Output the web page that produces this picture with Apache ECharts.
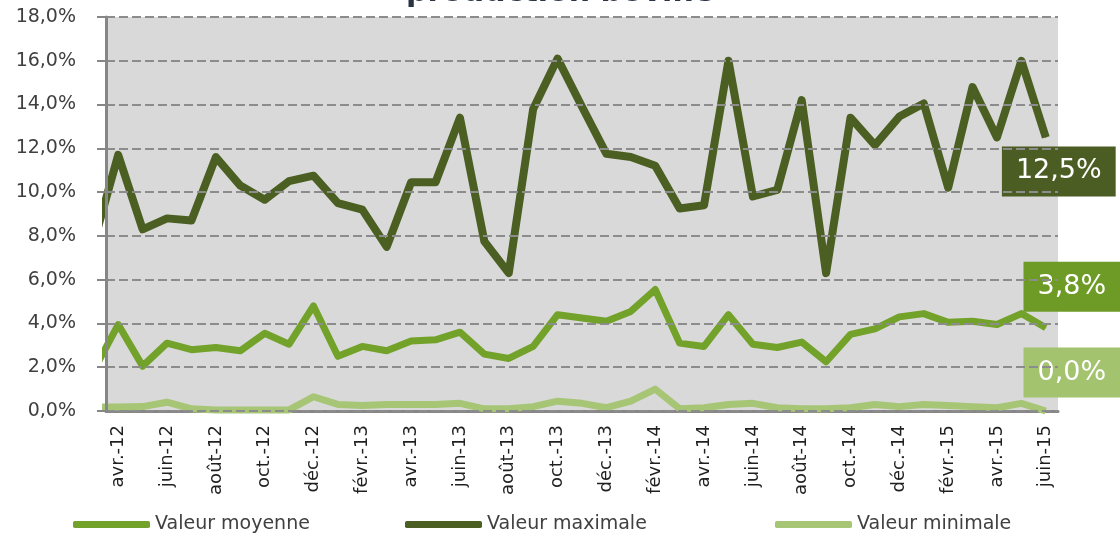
<!DOCTYPE html>
<html>
<head>
<meta charset="utf-8">
<script src="https://cdn.jsdelivr.net/npm/echarts@6/dist/echarts.min.js"></script>
<style>html,body{margin:0;padding:0;background:#fff}#c{width:1120px;height:543px}</style>
</head>
<body>
<div id="c"></div>
<script>
const titleText = 'production bovine';
const categories = ['avr.-12','mai-12','juin-12','juil.-12','août-12','sept.-12','oct.-12','nov.-12','déc.-12',
  'janv.-13','févr.-13','mars-13','avr.-13','mai-13','juin-13','juil.-13','août-13','sept.-13','oct.-13','nov.-13','déc.-13',
  'janv.-14','févr.-14','mars-14','avr.-14','mai-14','juin-14','juil.-14','août-14','sept.-14','oct.-14','nov.-14','déc.-14',
  'janv.-15','févr.-15','mars-15','avr.-15','mai-15','juin-15'];
// value of the month before the first category (mars-12), partly hidden by the axis
const previousMoyenne = 1.85;
const previousMaximale = 7.7;
const previousMinimale = 0.18;
const valeurMoyenne = [3.95,2.05,3.1,2.8,2.9,2.75,3.55,3.05,4.8,2.5,2.95,2.75,3.2,3.25,3.6,2.6,2.4,2.95,4.4,4.25,4.1,4.55,5.55,3.1,2.95,4.4,3.05,2.9,3.15,2.25,3.5,3.75,4.3,4.45,4.05,4.1,3.95,4.45,3.8];
const valeurMaximale = [11.7,8.3,8.8,8.7,11.6,10.3,9.65,10.5,10.75,9.5,9.2,7.5,10.45,10.45,13.4,7.75,6.3,13.8,16.1,13.9,11.75,11.6,11.2,9.25,9.4,16.0,9.8,10.1,14.2,6.3,13.4,12.15,13.45,14.05,10.2,14.8,12.5,16.0,12.5];
const valeurMinimale = [0.18,0.2,0.4,0.1,0.05,0.05,0.05,0.05,0.65,0.3,0.25,0.3,0.3,0.3,0.35,0.1,0.1,0.2,0.45,0.35,0.15,0.45,1.0,0.1,0.15,0.3,0.35,0.15,0.1,0.1,0.15,0.3,0.2,0.3,0.25,0.2,0.15,0.35,0.0];
const yTicks = {min: 0, max: 18, interval: 2};

const fmt = v => v.toFixed(1).replace('.', ',') + '%';

function buildData(prev, arr, labelCfg) {
  const d = [[-1, prev]];
  arr.forEach((v, i) => {
    if (i === arr.length - 1) {
      d.push({value: [i, v], label: labelCfg});
    } else {
      d.push([i, v]);
    }
  });
  return d;
}
function endLabel(bg, offset) {
  return {
    show: true, position: 'inside', offset: offset,
    formatter: p => fmt(p.value[1]),
    backgroundColor: bg, color: '#ffffff',
    fontFamily: 'DejaVu Sans', fontSize: 27, lineHeight: 30,
    padding: [10, 14, 10, 14]
  };
}

const chart = echarts.init(document.getElementById('c'));
const n = categories.length;
chart.setOption({
  animation: false,
  backgroundColor: '#ffffff',
  title: {
    text: titleText, left: 'center', top: -27,
    textStyle: {fontFamily: 'DejaVu Sans', fontWeight: 'bold', fontSize: 30, color: '#2a3442'}
  },
  grid: {left: 106, right: 62, top: 17, bottom: 132, show: true, backgroundColor: '#d9d9d9', borderWidth: 0},
  legend: [
    {left: 68, top: 510, data: ['Valeur moyenne']},
    {left: 400, top: 510, data: ['Valeur maximale']},
    {left: 770, top: 510, data: ['Valeur minimale']}
  ].map(l => Object.assign(l, {
    icon: 'roundRect', itemWidth: 77, itemHeight: 7, itemGap: 0,
    textStyle: {fontFamily: 'DejaVu Sans', fontSize: 19, color: '#404040', padding: [0, 0, 0, 0]}
  })),
  xAxis: [
    {
      type: 'category', data: categories, boundaryGap: true,
      axisLine: {lineStyle: {color: '#868686', width: 3}},
      axisTick: {interval: 1, length: 7, lineStyle: {color: '#868686', width: 2}},
      axisLabel: {interval: 1, rotate: 90, margin: 14, fontFamily: 'DejaVu Sans', fontSize: 18, color: '#1f1f1f'},
      splitLine: {show: false}
    },
    {
      type: 'value', min: -0.5, max: n - 0.5, show: false, splitLine: {show: false}
    }
  ],
  yAxis: {
    type: 'value', min: yTicks.min, max: yTicks.max, interval: yTicks.interval, z: 5,
    axisLine: {show: true, onZero: false, lineStyle: {color: '#868686', width: 3}},
    axisTick: {show: true, length: 9, lineStyle: {color: '#868686', width: 2}},
    axisLabel: {formatter: fmt, margin: 30, fontFamily: 'DejaVu Sans', fontSize: 19, color: '#404040'},
    splitLine: {show: true, lineStyle: {color: '#8c8c8c', width: 2, type: [9, 4]}}
  },
  series: [
    {
      name: 'Valeur moyenne', type: 'line', xAxisIndex: 1, clip: true,
      data: buildData(previousMoyenne, valeurMoyenne, endLabel('#6e9b25', [26, -41])),
      symbol: 'circle', symbolSize: 1, showSymbol: true,
      lineStyle: {color: '#72a229', width: 7, join: 'round', cap: 'butt'},
      itemStyle: {color: '#72a229'}, z: 3
    },
    {
      name: 'Valeur maximale', type: 'line', xAxisIndex: 1, clip: true,
      data: buildData(previousMaximale, valeurMaximale, endLabel('#4b5d23', [13, 34])),
      symbol: 'circle', symbolSize: 1, showSymbol: true,
      lineStyle: {color: '#4b5f22', width: 8, join: 'round', cap: 'butt'},
      itemStyle: {color: '#4b5f22'}, z: 2
    },
    {
      name: 'Valeur minimale', type: 'line', xAxisIndex: 1, clip: true,
      data: buildData(previousMinimale, valeurMinimale, endLabel('#a3c36f', [26, -38.5])),
      symbol: 'circle', symbolSize: 1, showSymbol: true,
      lineStyle: {color: '#a6c676', width: 7, join: 'round', cap: 'butt'},
      itemStyle: {color: '#a6c676'}, z: 4
    }
  ]
});
</script>
</body>
</html>
